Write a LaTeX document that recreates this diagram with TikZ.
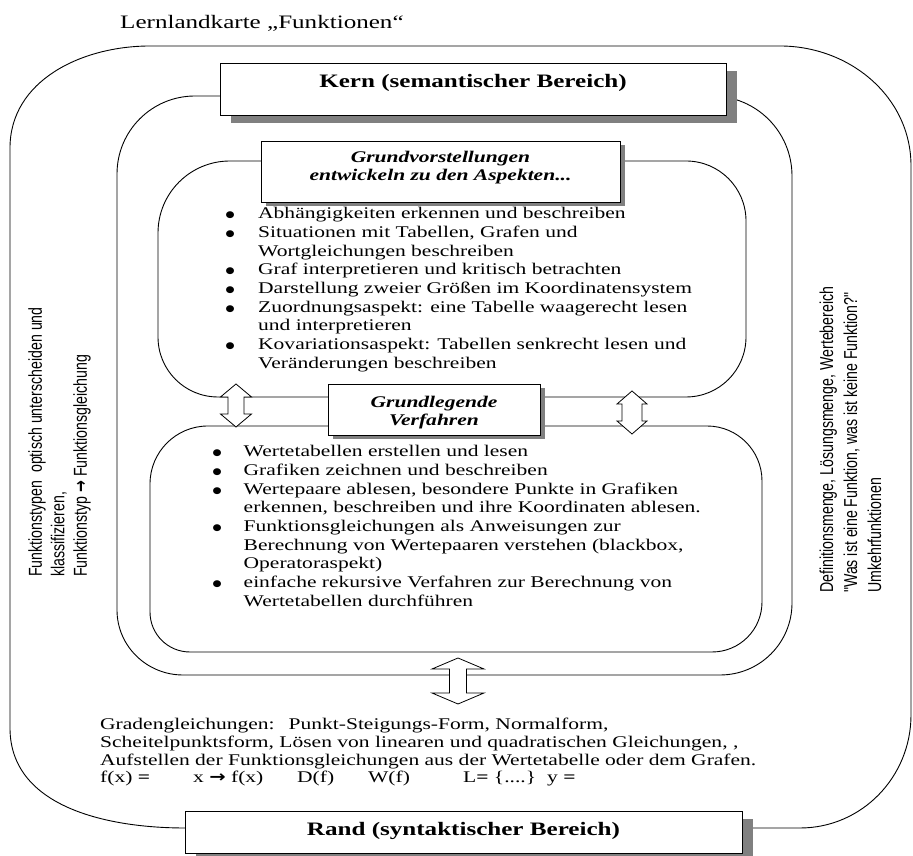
\documentclass[tikz,border=0pt]{standalone}
\usepackage{fontspec}
\setmainfont{Liberation Serif}[FakeStretch=1.32]
\newfontfamily\lmsidefont{Liberation Sans}[FakeStretch=0.758]
\newfontfamily\lmarrowh{DejaVu Sans}[FakeStretch=1.2]
\newfontfamily\lmarrowv{DejaVu Sans}[FakeStretch=0.758]
\newfontfamily\lmdotfont{DejaVu Sans}[FakeStretch=1.15]
\usetikzlibrary{shadows}
\newcommand\lmbul[1]{\makebox[#1][l]{\raisebox{1pt}{\lmdotfont\fontsize{9}{9}\selectfont ●}}}
\tikzset{
  frame/.style={draw=black, line width=0.9pt},
  bigbox/.style={draw=black, fill=white, line width=1pt, inner sep=0pt,
    drop shadow={shadow xshift=11pt, shadow yshift=-7pt, fill=black!50, opacity=1},
    font=\fontsize{19}{22}\selectfont\bfseries},
  smallbox/.style={draw=black, fill=white, line width=1pt, inner sep=0pt,
    drop shadow={shadow xshift=5pt, shadow yshift=-3pt, fill=black!50, opacity=1}},
  listtext/.style={inner sep=0pt, anchor=north west, align=left, font=\fontsize{16.3}{18.7}\selectfont},
  headtext/.style={inner sep=0pt, anchor=north, align=center, font=\fontsize{16.3}{18}\selectfont\bfseries\itshape},
  sidetext/.style={inner sep=0pt, anchor=north west, align=left, rotate=90},
  pics/dblarrow/.style n args={4}{code={
    \draw[fill=white, line width=0.8pt]
      (0,{#1/2}) -- ({#2},{#1/2-#3}) -- ({#4},{#1/2-#3}) -- ({#4},{-#1/2+#3})
      -- ({#2},{-#1/2+#3}) -- (0,{-#1/2}) -- ({-#2},{-#1/2+#3}) -- ({-#4},{-#1/2+#3})
      -- ({-#4},{#1/2-#3}) -- ({-#2},{#1/2-#3}) -- cycle;
  }}
}
\begin{document}
\begin{tikzpicture}[x=1pt,y=1pt]
\useasboundingbox (0,0) rectangle (913,856);

% title
\node[inner sep=0pt, anchor=base west, font=\fontsize{19}{22}\selectfont] (title) at (120,827.7) {Lernlandkarte „Funktionen“};

% outer frame
\draw[frame] (753,28) -- (800,28) to[out=0,in=-90] (911,141) -- (911,690)
  to[out=90,in=0] (780,810) -- (150,810) to[out=180,in=90] (10,708)
  -- (10,128) to[out=-90,in=180] (185,28);

% middle frame
\draw[frame] (195,760) -- (712,760) to[out=0,in=90] (792,680) -- (792,253)
  to[out=-90,in=0] (720,181) -- (183,181) to[out=180,in=-90] (117,246)
  -- (117,682) to[out=90,in=180] (195,760) -- cycle;

% upper inner box
\draw[frame] (230,695) -- (686,695) to[out=0,in=90] (746,635) -- (746,519)
  to[out=-90,in=0] (686,459) -- (218,459) to[out=180,in=-90] (158,519)
  -- (158,623) to[out=90,in=180] (230,695) -- cycle;

% lower inner box
\draw[frame] (208,430) -- (707,430) to[out=0,in=90] (762,375) -- (762,254)
  to[out=-90,in=0] (712,204) -- (190,204) to[out=180,in=-90] (150,244)
  -- (150,372) to[out=90,in=180] (208,430) -- cycle;

% title boxes
\node[bigbox, minimum width=506pt, text height=24pt, text depth=28pt] (kern) at (473,766) {Kern (semantischer Bereich)};
\node[bigbox, minimum width=557pt, text height=24pt, text depth=18pt] (rand) at (463.5,23) {Rand (syntaktischer Bereich)};

\node[smallbox, minimum width=359pt, minimum height=61pt] (gvbox) at (440.5,683.5) {};
\node[headtext] (gvtext) at (440.5,706.6) {\strut Grundvorstellungen\\entwickeln zu den Aspekten...};

\node[smallbox, minimum width=212pt, minimum height=51pt] (gfbox) at (434,445.5) {};
\node[headtext] (gftext) at (434,461.6) {\strut Grundlegende\\Verfahren};

% double arrows
\pic at (236,450.5) {dblarrow={43}{15.5}{13}{8}};
\pic at (632,443.5) {dblarrow={43}{15}{13}{10}};
\pic at (458,175) {dblarrow={46}{26}{11}{8.5}};

% upper list
\node[listtext] (ulist) at (225.5,650.6) {%
\strut\lmbul{32.5pt}Abhängigkeiten erkennen und beschreiben\\
\lmbul{32.5pt}Situationen mit Tabellen, Grafen und\\
\hspace*{32.5pt}Wortgleichungen beschreiben\\
\lmbul{32.5pt}Graf interpretieren und kritisch betrachten\\
\lmbul{32.5pt}Darstellung zweier Größen im Koordinatensystem\\
\lmbul{32.5pt}Zuordnungsaspekt: eine Tabelle waagerecht lesen\\
\hspace*{32.5pt}und interpretieren\\
\lmbul{32.5pt}Kovariationsaspekt: Tabellen senkrecht lesen und\\
\hspace*{32.5pt}Veränderungen beschreiben};

% lower list
\node[listtext] (llist) at (212.5,412.5) {%
\strut\lmbul{31pt}Wertetabellen erstellen und lesen\\
\lmbul{31pt}Grafiken zeichnen und beschreiben\\
\lmbul{31pt}Wertepaare ablesen, besondere Punkte in Grafiken\\
\hspace*{31pt}erkennen, beschreiben und ihre Koordinaten ablesen.\\
\lmbul{31pt}Funktionsgleichungen als Anweisungen zur\\
\hspace*{31pt}Berechnung von Wertepaaren verstehen (blackbox,\\
\hspace*{31pt}Operatoraspekt)\\
\lmbul{31pt}einfache rekursive Verfahren zur Berechnung von\\
\hspace*{31pt}Wertetabellen durchführen};

% bottom text
\node[listtext, font=\fontsize{16.3}{17.6}\selectfont] (btext) at (100,138.7) {%
\strut Gradengleichungen:\hspace{14pt}Punkt-Steigungs-Form, Normalform,\\
Scheitelpunktsform, Lösen von linearen und quadratischen Gleichungen, ,\\
Aufstellen der Funktionsgleichungen aus der Wertetabelle oder dem Grafen.\\
\makebox[93pt][l]{f(x) \textbf{=}}\makebox[104pt][l]{x {\lmarrowh\bfseries →} f(x)}\makebox[71pt][l]{D(f)}\makebox[95pt][l]{W(f)}\makebox[84pt][l]{L\textbf{=} \{....\}}y \textbf{=}};

% side texts
\node[sidetext, font=\lmsidefont\fontsize{18.7}{22.5}\selectfont] (lside) at (26,279) {%
\strut Funktionstypen\ \ optisch unterscheiden und\\
klassifizieren,\\
Funktionstyp {\lmarrowv\bfseries →} Funktionsgleichung};

\node[sidetext, font=\lmsidefont\fontsize{18.7}{24}\selectfont] (rside) at (816,263) {%
\strut Definitionsmenge, Lösungsmenge, Wertebereich\\
"Was ist eine Funktion, was ist keine Funktion?"\\
Umkehrfunktionen};

\end{tikzpicture}
\end{document}
